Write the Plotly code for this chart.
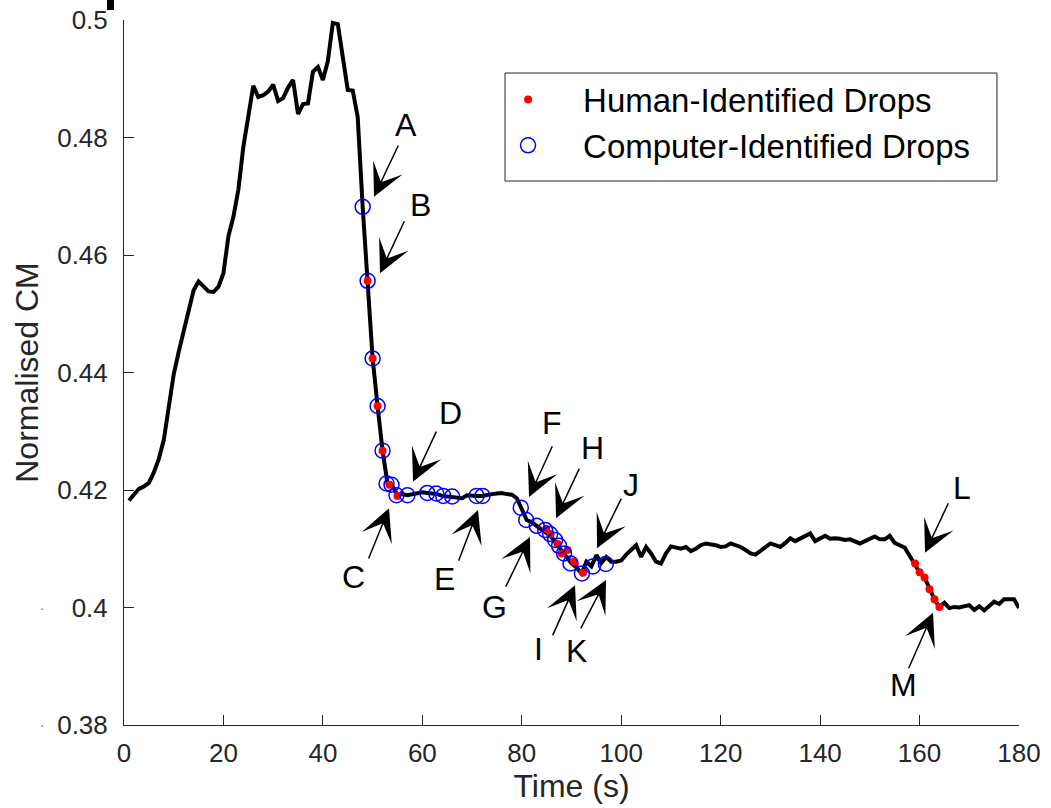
import plotly.graph_objects as go

# ---------------- data ----------------
time_s = list(range(1, 181))
cm = [
    0.4182, 0.4193, 0.4202, 0.4206, 0.4212, 0.4230, 0.4253, 0.4285, 0.4338, 0.4397,
    0.4435, 0.4472, 0.4509, 0.4540, 0.4555, 0.4547, 0.4538, 0.4537, 0.4546, 0.4569,
    0.4632, 0.4665, 0.4711, 0.4784, 0.4835, 0.4888, 0.4869, 0.4872, 0.4878, 0.4890,
    0.4862, 0.4867, 0.4885, 0.4898, 0.4840, 0.4857, 0.4858, 0.4912, 0.4920, 0.4898,
    0.4930, 0.4995, 0.4993, 0.4938, 0.4881, 0.4880, 0.4835, 0.4682, 0.4556, 0.4424,
    0.4343, 0.4267, 0.4211, 0.4206, 0.4192, 0.4193, 0.4191, 0.4193, 0.4195, 0.4196,
    0.4195, 0.4194, 0.4193, 0.4190, 0.4189, 0.4189, 0.4187, 0.4186, 0.4191, 0.4190,
    0.4190, 0.4190, 0.4192, 0.4193, 0.4194, 0.4195, 0.4193, 0.4192, 0.4186, 0.4169,
    0.4149, 0.4145, 0.4139, 0.4134, 0.4128, 0.4120, 0.4108, 0.4097, 0.4085, 0.4075,
    0.4068, 0.4058, 0.4078, 0.4070, 0.4089, 0.4076, 0.4086, 0.4078, 0.4078, 0.4080,
    0.4090, 0.4098, 0.4106, 0.4086, 0.4103, 0.4092, 0.4078, 0.4075, 0.4092, 0.4104,
    0.4102, 0.4100, 0.4103, 0.4096, 0.4100, 0.4106, 0.4109, 0.4108, 0.4106, 0.4103,
    0.4104, 0.4109, 0.4106, 0.4103, 0.4098, 0.4092, 0.4090, 0.4097, 0.4103, 0.4109,
    0.4106, 0.4103, 0.4110, 0.4118, 0.4113, 0.4117, 0.4121, 0.4126, 0.4113, 0.4118,
    0.4122, 0.4117, 0.4118, 0.4117, 0.4115, 0.4116, 0.4113, 0.4109, 0.4113, 0.4117,
    0.4121, 0.4116, 0.4116, 0.4122, 0.4110, 0.4106, 0.4102, 0.4088, 0.4075, 0.4060,
    0.4051, 0.4031, 0.4014, 0.4001, 0.4008, 0.3999, 0.4001, 0.4000, 0.4002, 0.4004,
    0.3996, 0.4002, 0.3995, 0.4002, 0.4010, 0.4006, 0.4014, 0.4014, 0.4014, 0.3999,
]

human_t = [49.0, 50.0, 51.0, 52.0, 53.4, 55.0,
           84.9, 85.8, 87.2, 88.0, 89.2, 90.5, 92.3,
           159.1, 160.0, 161.0, 162.0, 163.0, 164.0]
human_cm = [0.4556, 0.4424, 0.4343, 0.4267, 0.4209, 0.4190,
            0.4134, 0.4125, 0.4108, 0.4092, 0.4098, 0.4078, 0.4059,
            0.4075, 0.4060, 0.4051, 0.4031, 0.4014, 0.4001]

comp_t = [48.0, 49.0, 50.0, 51.0, 52.0, 52.8, 53.8, 54.8, 57.0, 61.0, 62.8, 64.2,
          66.0, 70.9, 72.1, 79.8, 80.9, 83.0, 84.7, 85.7, 86.7, 87.5, 88.5, 89.8,
          92.1, 94.3, 96.9]
comp_cm = [0.4682, 0.4556, 0.4424, 0.4343, 0.4267, 0.4211, 0.4209, 0.4191, 0.4191,
           0.4195, 0.4194, 0.4190, 0.4189, 0.4190, 0.4190, 0.4170, 0.4149, 0.4139,
           0.4132, 0.4125, 0.4115, 0.4105, 0.4092, 0.4075, 0.4058, 0.4070, 0.4074]

x_ticks = [0, 20, 40, 60, 80, 100, 120, 140, 160, 180]
y_ticks = [0.38, 0.40, 0.42, 0.44, 0.46, 0.48, 0.50]
y_tick_labels = ["0.38", "0.4", "0.42", "0.44", "0.46", "0.48", "0.5"]

label_text = ["A", "B", "C", "D", "E", "F", "G", "H", "I", "J", "K", "L", "M"]
label_x = [56.72, 59.53, 46.06, 65.57, 64.36, 86.08, 74.42, 94.13, 83.27, 101.97, 90.91, 168.54, 156.68]
label_y = [0.4821, 0.4685, 0.4052, 0.4331, 0.4049, 0.4314, 0.4001, 0.4271, 0.3929, 0.4209, 0.3926, 0.4203, 0.3868]
tail_x = [55.31, 56.52, 49.07, 62.95, 67.18, 86.28, 76.63, 91.71, 86.08, 100.16, 91.71, 165.93, 157.68]
tail_y = [0.4789, 0.4660, 0.4081, 0.4302, 0.4077, 0.4277, 0.4033, 0.4239, 0.3950, 0.4188, 0.3962, 0.4180, 0.3894]
tip_x = [50.28, 51.49, 53.30, 58.13, 71.20, 81.46, 81.66, 86.89, 90.71, 95.13, 96.94, 161.10, 162.71]
tip_y = [0.4699, 0.4569, 0.4169, 0.4214, 0.4166, 0.4188, 0.4120, 0.4152, 0.4038, 0.4101, 0.4047, 0.4093, 0.3991]

FONT = "Liberation Sans, Arial, Helvetica, sans-serif"
AX = "#262626"

fig = go.Figure()
fig.add_trace(go.Scatter(x=time_s, y=cm, mode="lines",
                         line=dict(color="black", width=4), showlegend=False,
                         hoverinfo="skip"))
fig.add_trace(go.Scatter(x=human_t, y=human_cm, mode="markers",
                         marker=dict(color="#ff0000", size=8),
                         name="Human-Identified Drops"))
fig.add_trace(go.Scatter(x=comp_t, y=comp_cm, mode="markers",
                         marker=dict(symbol="circle-open", color="#0000ff", size=15,
                                     line=dict(width=1.5, color="#0000ff")),
                         name="Computer-Identified Drops"))

annotations = []
for t, lx, ly, sx, sy, ex, ey in zip(label_text, label_x, label_y, tail_x, tail_y, tip_x, tip_y):
    annotations.append(dict(x=ex, y=ey, ax=sx, ay=sy, xref="x", yref="y",
                            axref="x", ayref="y", text="", showarrow=True,
                            arrowhead=3, arrowsize=3.6, arrowwidth=1.5,
                            arrowcolor="black"))
    annotations.append(dict(x=lx, y=ly, xref="x", yref="y", text=t,
                            showarrow=False, font=dict(family=FONT, size=32, color="black")))

# stray marks at the left edge of the figure
annotations.append(dict(x=-0.096, y=0.156, xref="paper", yref="paper", text=".",
                        showarrow=False, font=dict(family=FONT, size=14, color="#777777")))
annotations.append(dict(x=-0.096, y=-0.01, xref="paper", yref="paper", text=".",
                        showarrow=False, font=dict(family=FONT, size=14, color="#777777")))

fig.update_layout(
    width=1051, height=808,
    margin=dict(l=124, r=32, t=20, b=83),
    paper_bgcolor="white", plot_bgcolor="white",
    font=dict(family=FONT, color=AX),
    annotations=annotations,
    shapes=[
        dict(type="rect", xref="paper", yref="paper", x0=0.4257, x1=0.9754,
             y0=0.7716, y1=0.9248, fillcolor="white", layer="below",
             line=dict(width=1, color=AX)),
        # cropped fragment of a panel letter at the top-left edge
        dict(type="rect", xref="paper", yref="paper", x0=-0.019, x1=-0.0112,
             y0=1.0142, y1=1.0284, fillcolor="black", line=dict(width=0)),
    ],
    legend=dict(x=0.390, y=0.927, xanchor="left", yanchor="top",
                bgcolor="rgba(0,0,0,0)", borderwidth=0,
                font=dict(family=FONT, size=33, color="black"),
                itemwidth=100),
    showlegend=True,
)
fig.update_xaxes(range=[0, 180], tickvals=x_ticks, ticks="inside", ticklen=10,
                 tickcolor=AX, showline=True, linecolor=AX, linewidth=1,
                 showgrid=False, zeroline=False, automargin=False,
                 ticklabelstandoff=5, ticklabeloverflow="allow",
                 tickfont=dict(family=FONT, size=26, color=AX),
                 title=dict(text="Time (s)", font=dict(family=FONT, size=32, color=AX), standoff=4))
fig.update_yaxes(range=[0.38, 0.5], tickvals=y_ticks, ticktext=y_tick_labels,
                 ticks="inside", ticklen=10, tickcolor=AX, showline=True,
                 linecolor=AX, linewidth=1, showgrid=False, zeroline=False,
                 automargin=False, ticklabelstandoff=10, ticklabeloverflow="allow",
                 tickfont=dict(family=FONT, size=26, color=AX),
                 title=dict(text="Normalised CM", font=dict(family=FONT, size=32, color=AX), standoff=8))

# remove the default 8 px page margin so the figure fills the window exactly
fig.write_html("out.html",
               config={"displayModeBar": False},
               post_script="document.body.style.margin='0px';"
                           "document.body.style.overflow='hidden';")
